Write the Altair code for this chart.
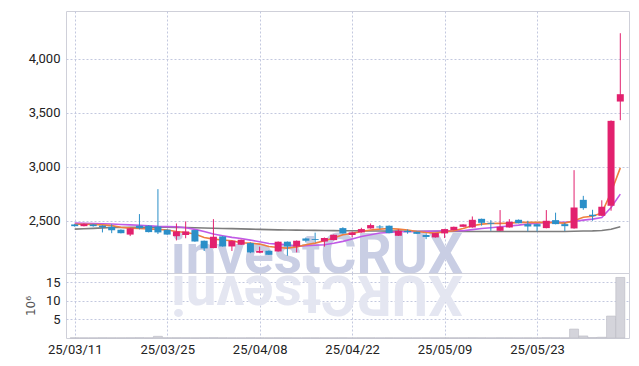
import json
import altair as alt
import pandas as pd

dates = [
    "25/03/11", "25/03/12", "25/03/13", "25/03/14", "25/03/17", "25/03/18", "25/03/19", "25/03/20", "25/03/21", "25/03/24",
    "25/03/25", "25/03/26", "25/03/27", "25/03/28", "25/03/31", "25/04/01", "25/04/02", "25/04/03", "25/04/04", "25/04/07",
    "25/04/08", "25/04/09", "25/04/10", "25/04/11", "25/04/14", "25/04/15", "25/04/16", "25/04/17", "25/04/18", "25/04/21",
    "25/04/22", "25/04/23", "25/04/24", "25/04/25", "25/04/28", "25/04/29", "25/04/30", "25/05/02", "25/05/07", "25/05/08",
    "25/05/09", "25/05/12", "25/05/13", "25/05/14", "25/05/15", "25/05/16", "25/05/19", "25/05/20", "25/05/21", "25/05/22",
    "25/05/23", "25/05/26", "25/05/27", "25/05/28", "25/05/29", "25/05/30", "25/06/02", "25/06/04", "25/06/05", "25/06/09",
]
opens = [2466, 2450, 2466, 2455, 2444, 2417, 2372, 2454, 2454, 2447,
         2417, 2357, 2368, 2414, 2315, 2247, 2355, 2262, 2278, 2293,
         2204, 2222, 2216, 2306, 2262, 2336, 2330, 2308, 2321, 2432,
         2368, 2392, 2429, 2447, 2454, 2361, 2407, 2398, 2368, 2346,
         2383, 2414, 2444, 2438, 2518, 2481, 2407, 2438, 2509, 2469,
         2469, 2432, 2506, 2469, 2429, 2694, 2556, 2546, 2639, 3605]
highs = [2470, 2475, 2470, 2458, 2468, 2420, 2432, 2562, 2458, 2793,
         2420, 2475, 2494, 2416, 2317, 2515, 2357, 2318, 2326, 2300,
         2260, 2225, 2308, 2308, 2317, 2345, 2390, 2345, 2372, 2440,
         2400, 2435, 2475, 2460, 2456, 2420, 2420, 2400, 2385, 2388,
         2425, 2446, 2468, 2540, 2520, 2506, 2599, 2515, 2512, 2500,
         2472, 2599, 2575, 2482, 2969, 2731, 2602, 2690, 3430, 4238]
lows = [2445, 2448, 2445, 2392, 2385, 2383, 2358, 2420, 2392, 2377,
        2370, 2318, 2338, 2306, 2220, 2245, 2260, 2220, 2276, 2200,
        2200, 2183, 2214, 2176, 2207, 2300, 2300, 2260, 2319, 2381,
        2345, 2390, 2427, 2425, 2384, 2359, 2380, 2377, 2330, 2344,
        2340, 2412, 2442, 2436, 2455, 2407, 2405, 2436, 2476, 2401,
        2401, 2430, 2467, 2405, 2427, 2602, 2500, 2544, 2593, 3432]
closes = [2450, 2470, 2450, 2440, 2412, 2385, 2430, 2430, 2395, 2392,
          2372, 2401, 2401, 2308, 2244, 2352, 2262, 2315, 2324, 2207,
          2222, 2185, 2306, 2262, 2315, 2315, 2322, 2340, 2370, 2383,
          2392, 2423, 2460, 2438, 2386, 2407, 2395, 2379, 2350, 2386,
          2423, 2444, 2466, 2509, 2481, 2472, 2444, 2491, 2478, 2447,
          2447, 2500, 2469, 2450, 2623, 2617, 2543, 2630, 3426, 3673]
volumes = [0.05, 0.04, 0.04, 0.06, 0.05, 0.05, 0.06, 0.08, 0.05, 0.45,
           0.06, 0.07, 0.06, 0.05, 0.07, 0.08, 0.05, 0.04, 0.04, 0.06,
           0.05, 0.05, 0.06, 0.05, 0.04, 0.05, 0.05, 0.04, 0.05, 0.06,
           0.04, 0.05, 0.05, 0.04, 0.05, 0.04, 0.04, 0.04, 0.05, 0.04,
           0.05, 0.05, 0.05, 0.07, 0.05, 0.04, 0.06, 0.05, 0.04, 0.05,
           0.04, 0.08, 0.06, 0.05, 2.4, 0.55, 0.12, 0.2, 5.9, 16.3]
ma5 = [2468, 2468, 2466, 2462, 2455, 2440, 2432, 2429, 2425, 2420,
       2414, 2401, 2392, 2377, 2345, 2330, 2322, 2315, 2297, 2293,
       2284, 2262, 2253, 2247, 2258, 2278, 2293, 2315, 2340, 2370,
       2383, 2401, 2414, 2423, 2429, 2423, 2414, 2401, 2392, 2386,
       2398, 2407, 2429, 2454, 2469, 2475, 2476, 2478, 2485, 2485,
       2485, 2485, 2482, 2478, 2500, 2532, 2542, 2573, 2762, 2990]
ma10 = [2478, 2477, 2475, 2472, 2470, 2466, 2462, 2458, 2453, 2448,
        2446, 2444, 2435, 2420, 2400, 2377, 2362, 2346, 2335, 2321,
        2305, 2290, 2284, 2278, 2262, 2268, 2273, 2278, 2292, 2309,
        2332, 2355, 2370, 2386, 2392, 2398, 2398, 2400, 2402, 2405,
        2407, 2407, 2407, 2418, 2429, 2436, 2444, 2452, 2460, 2470,
        2478, 2485, 2485, 2485, 2494, 2506, 2515, 2531, 2623, 2747]
ma60 = [2423, 2426, 2430, 2434, 2437, 2438, 2439, 2440, 2440, 2440,
        2440, 2439, 2437, 2435, 2433, 2431, 2429, 2427, 2425, 2423,
        2420, 2418, 2416, 2414, 2413, 2412, 2411, 2410, 2409, 2408,
        2407, 2406, 2405, 2405, 2404, 2404, 2403, 2403, 2402, 2402,
        2401, 2401, 2401, 2401, 2401, 2401, 2401, 2401, 2401, 2401,
        2401, 2401, 2401, 2401, 2403, 2405, 2406, 2410, 2422, 2445]
tick_idx = [0, 10, 20, 30, 40, 50]
price_ticks = [2500, 3000, 3500, 4000]
vol_ticks = [5, 10, 15]
watermark = "investCRUX"

df = pd.DataFrame({
    "idx": list(range(len(dates))), "date": dates, "open": opens, "high": highs,
    "low": lows, "close": closes, "vol": volumes, "ma5": ma5, "ma10": ma10, "ma60": ma60,
})
df["dir"] = ["up" if c >= o else "down" for o, c in zip(opens, closes)]

UP, DOWN = "#e2216e", "#2b8fc8"
FONT = "Roboto"
W, HP, HV = 563, 262, 65
xscale = alt.Scale(domain=[-0.4, 59.4], nice=False, zero=False)
label_expr = json.dumps(dates) + "[datum.value]"
color = alt.Color("dir:N", scale=alt.Scale(domain=["up", "down"], range=[UP, DOWN]), legend=None)

yscale = alt.Scale(domain=[2016, 4444], nice=False, zero=False)
xp = alt.X("idx:Q", scale=xscale, axis=alt.Axis(values=tick_idx, labels=False, ticks=False,
                                                domain=False, grid=True, title=None))
yaxis = alt.Axis(values=price_ticks, format=",.0f", title=None, grid=True)

base = alt.Chart(df)
wm_df = pd.DataFrame({"t": [watermark], "r": [watermark[::-1]]})
wm = alt.Chart(wm_df).mark_text(font=FONT, fontWeight="bold", fontSize=55, color="#c9cee4",
                                align="center", baseline="alphabetic").encode(
    text="t:N", x=alt.value(251), y=alt.value(262))

lines = []
for col, c in [("ma60", "#7d7d7d"), ("ma10", "#c05ae6"), ("ma5", "#ef7f3e")]:
    lines.append(base.mark_line(color=c, strokeWidth=1.6).encode(
        x=xp, y=alt.Y(f"{col}:Q", scale=yscale, axis=yaxis)))
wick = base.mark_rule(strokeWidth=1).encode(
    x=xp, y=alt.Y("low:Q", scale=yscale, axis=yaxis), y2="high:Q", color=color)
body = base.mark_bar(size=7).encode(
    x=xp, y=alt.Y("open:Q", scale=yscale, axis=yaxis), y2="close:Q", color=color)
price = alt.layer(wm, *lines, wick, body).properties(width=W, height=HP)

xv = alt.X("idx:Q", scale=xscale, axis=alt.Axis(values=tick_idx, labelExpr=label_expr, ticks=False,
                                                domain=False, grid=True, title=None, labelPadding=5))
wm2 = alt.Chart(wm_df).mark_text(font=FONT, fontWeight="bold", fontSize=55, color="#e4e6f1",
                                 align="center", baseline="alphabetic", angle=180).encode(
    text="r:N", x=alt.value(251), y=alt.value(3))
volbar = base.mark_bar(size=9, color="#d4d4db", stroke="#b8b8c2", strokeWidth=0.6).encode(
    x=xv, y=alt.Y("vol:Q", scale=alt.Scale(domain=[0, 17.5], nice=False),
                  axis=alt.Axis(values=vol_ticks, format="d", title="10⁶", grid=True,
                                titleFontWeight="normal", titleColor="#555", titleFont="DejaVu Sans",
                                titleFontSize=12, titlePadding=8)))
volume = alt.layer(wm2, volbar).properties(width=W, height=HV)

chart = alt.vconcat(price, volume, spacing=0, bounds="flush").properties(
    padding={"left": 23, "top": 10, "right": 9, "bottom": 5}
).configure_view(stroke="#cfd0d9").configure_axis(
    labelFont=FONT, labelFontSize=13, labelColor="#222", labelPadding=6,
    gridDash=[2, 2], gridColor="#c3c8df", gridWidth=1, ticks=False, domain=False,
)
chart.save("out.html", embed_options={"renderer": "svg", "actions": False})
